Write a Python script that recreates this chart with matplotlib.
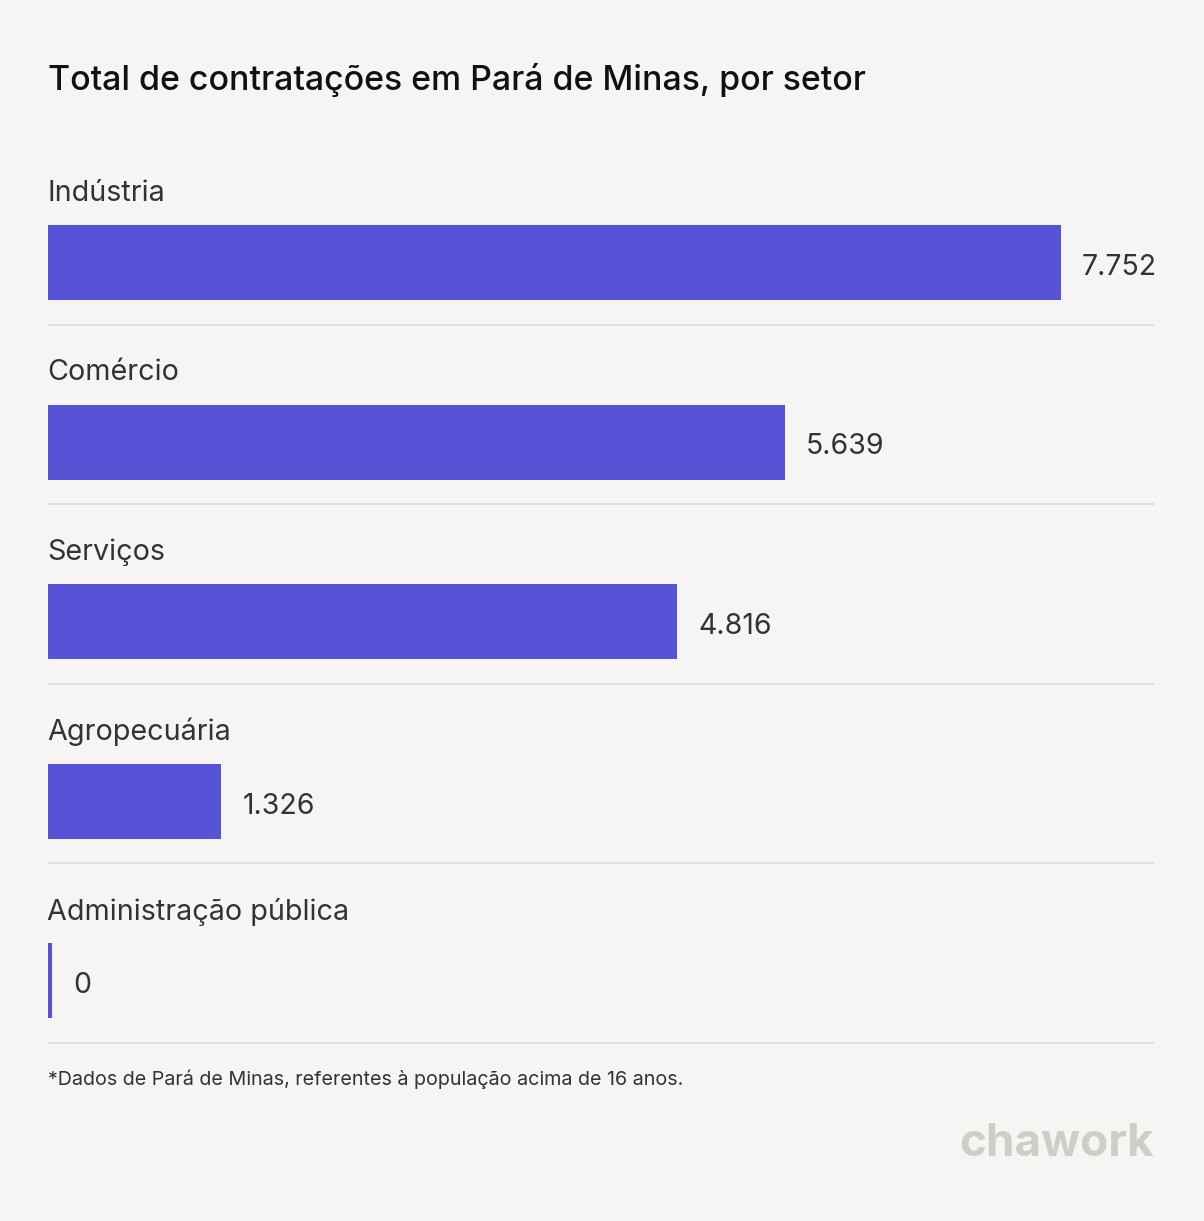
import matplotlib
matplotlib.use("Agg")
import matplotlib.pyplot as plt

categories = ["Indústria", "Comércio", "Serviços", "Agropecuária", "Administração pública"]
values = [7752, 5639, 4816, 1326, 0]
value_labels = ["7.752", "5.639", "4.816", "1.326", "0"]
title = "Total de contratações em Pará de Minas, por setor"
footnote = "*Dados de Pará de Minas, referentes à população acima de 16 anos."

W, H = 1204, 1221
BG = "#f6f5f3"
BAR = "#5753d6"
TXT = "#333333"

plt.rcParams['font.family'] = ['Inter', 'DejaVu Sans']
fig = plt.figure(figsize=(W / 100, H / 100), dpi=100, facecolor=BG)
ax = fig.add_axes([0, 0, 1, 1])
ax.set_facecolor(BG)

left_px, right_px = 48, 1061
scale = (right_px - left_px) / max(values)  # px per unit
ax.set_xlim(-left_px / scale, (W - left_px) / scale)
ax.set_ylim(H, 0)
ax.axis("off")

def px2x(px):
    return (px - left_px) / scale

first_bar_center = 262.5
step = 179.5
bar_h = 75
min_w = 4 / scale

for i, (cat, v, lab) in enumerate(zip(categories, values, value_labels)):
    yc = first_bar_center + i * step
    w = max(v, min_w)
    ax.barh(yc, w, height=bar_h, left=0, color=BAR)
    ax.text(px2x(47), yc - 69, cat, fontsize=20.7, color=TXT, va="center", ha="left")
    end_px = left_px + w * scale
    ax.text(px2x(end_px + 21), yc + 5, lab, fontsize=20.5, color=TXT, va="center", ha="left")
    ax.plot([px2x(48), px2x(1154)], [yc + 62, yc + 62], color="#e1dfdb", lw=1.5, solid_capstyle="butt")

ax.text(px2x(48), 80, title, fontsize=24.4, color="#111111", va="center", ha="left", fontweight="medium")
ax.text(px2x(48), 1079, footnote, fontsize=14.2, color=TXT, va="center", ha="left")
ax.text(px2x(1154), 1144, "chawork", fontsize=33, color="#cfcdc7", va="center", ha="right", fontweight="bold")

fig.savefig("out.png", dpi=100, facecolor=BG)
